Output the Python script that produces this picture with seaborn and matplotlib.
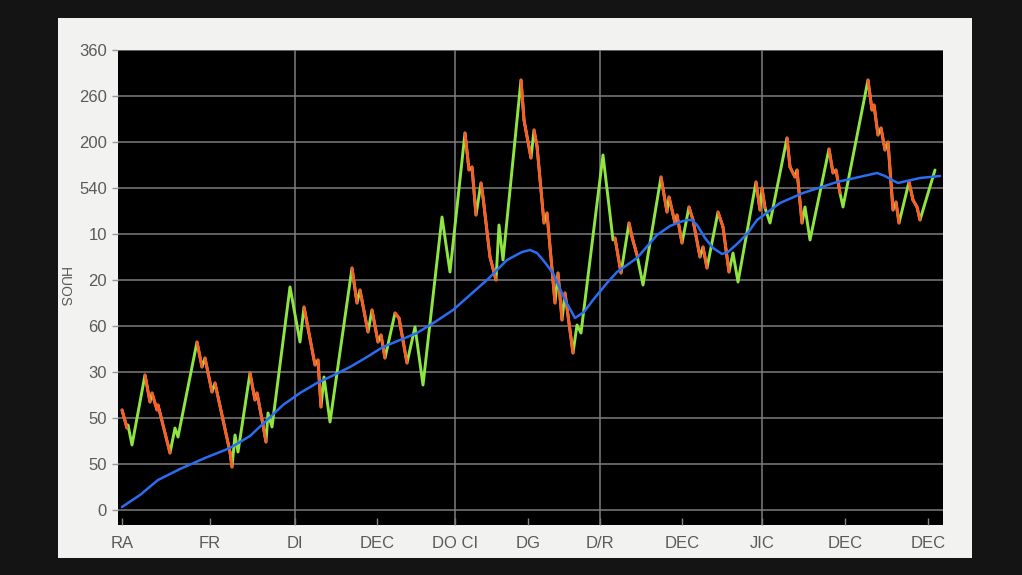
import numpy as np
import pandas as pd
import matplotlib
matplotlib.use("Agg")
import matplotlib.pyplot as plt
import seaborn as sns

# ---- data ----
price_x = [0, 5, 6, 10, 23, 28, 30, 35, 36, 48, 53, 56, 75, 80, 83, 90, 93, 108, 110, 113, 116,
           128, 133, 135, 141, 144, 146, 150, 168, 178, 182, 193, 196, 199, 202, 208,
           230, 235, 238, 246, 250, 256, 259, 263, 273, 277, 285, 293, 301,
           320, 328, 343, 347, 350, 354, 359, 361, 368, 374, 377, 381,
           399, 402, 409, 412, 415, 422, 425, 433, 436, 440, 443, 451, 455, 459,
           481, 491, 493, 499, 507, 510, 515, 521, 539, 545, 547, 553, 555, 560,
           567, 571, 578, 581, 585, 596, 601, 607, 611, 616, 634, 638, 640, 643, 648,
           665, 668, 673, 675, 680, 683, 688, 707, 711, 714, 718, 721,
           746, 750, 752, 756, 759, 763, 766, 771, 774, 777, 787, 791, 795, 798, 813]
price_y = [100, 82, 85, 65, 135, 108, 117, 100, 105, 57, 82, 73, 168, 143, 152, 118, 127, 58, 43, 75, 58,
           137, 110, 117, 85, 68, 97, 83, 223, 168, 203, 145, 150, 103, 133, 88,
           242, 207, 220, 178, 200, 168, 175, 152, 197, 192, 147, 183, 125,
           293, 238, 377, 340, 343, 295, 327, 313, 253, 230, 285, 250,
           430, 390, 352, 380, 364, 287, 297, 207, 237, 190, 217, 157, 185, 177,
           355, 270, 272, 237, 287, 273, 255, 225, 333, 298, 313, 287, 295, 267,
           303, 290, 253, 263, 242, 298, 283, 238, 257, 228, 328, 300, 322, 302, 287,
           372, 343, 333, 340, 287, 303, 270, 361, 337, 340, 317, 303,
           430, 400, 405, 375, 382, 360, 368, 300, 308, 287, 328, 310, 303, 290, 340]

avg_x = [0, 18, 36, 58, 83, 108, 128, 145, 161, 178, 195, 212, 228, 245, 261, 278, 295, 313,
         331, 348, 365, 385, 400, 408, 415, 421, 431, 443, 453, 462, 471, 485, 495, 505, 515,
         535, 548, 558, 565, 570, 575, 583, 591, 600, 606, 615, 625, 635, 658, 681, 715, 755,
         763, 770, 776, 798, 818]
avg_y = [3, 15, 30, 41, 52, 62, 74, 90, 105, 117, 127, 135, 143, 153, 163, 170, 177, 188,
         200, 215, 230, 250, 258, 260, 257, 250, 237, 210, 192, 198, 210, 227, 238, 245, 252,
         275, 284, 288, 290, 290, 285, 272, 262, 256, 258, 266, 276, 290, 307, 317, 328, 337,
         334, 330, 327, 332, 334]

x_ticks = [0, 88, 173, 255, 333, 406, 478, 560, 640, 723, 806]
x_labels = ["RA", "FR", "DI", "DEC", "DO CI", "DG", "D/R", "DEC", "JIC", "DEC", "DEC"]
x_grid_ticks = ["DI", "DO CI", "D/R", "JIC"]
y_ticks = [0, 46, 92, 138, 184, 230, 276, 322, 368, 414, 460]
y_labels = ["0", "50", "50", "30", "60", "20", "10", "540", "200", "260", "360"]
y_title = "HUOS"

# ---- frames ----
price = pd.DataFrame({"x": price_x, "y": price_y})
avg = pd.DataFrame({"x": avg_x, "y": avg_y})
falls = []
n = len(price_x)
for i in range(n - 1):
    drop = price_y[i] - price_y[i + 1]
    next_rise = price_y[i + 2] - price_y[i + 1] if i + 2 < n else 0
    prev_rise = price_y[i] - price_y[i - 1] if i > 0 else 0
    # falling legs are drawn orange, except the last leg into a trough before a rally
    # and a sharp first leg off a rally peak
    if drop <= 0 or next_rise > 60 or (prev_rise > 60 and drop >= 50):
        continue
    falls.append({"x": price_x[i], "y": price_y[i], "seg": i})
    falls.append({"x": price_x[i + 1], "y": price_y[i + 1], "seg": i})
falls = pd.DataFrame(falls)

# ---- style ----
sns.set_style("dark", {"axes.facecolor": "black"})
plt.rcParams["font.family"] = ["Liberation Sans Narrow", "Liberation Sans", "DejaVu Sans"]

fig = plt.figure(figsize=(10.22, 5.75), dpi=100, facecolor="#141414")
# the white screen panel
bg = fig.add_axes([58 / 1022, 1 - 558 / 575, (972 - 58) / 1022, (558 - 18) / 575], zorder=0)
bg.set_facecolor("#f2f2f0")
bg.set_xticks([])
bg.set_yticks([])
for s in bg.spines.values():
    s.set_visible(False)

ax = fig.add_axes([118 / 1022, 50 / 575, (943 - 118) / 1022, (525 - 50) / 575], zorder=2)
ax.set_facecolor("black")

sns.lineplot(data=price, x="x", y="y", ax=ax, color="#8fe640", lw=2.1, sort=False,
             estimator=None, zorder=3)
sns.lineplot(data=falls, x="x", y="y", units="seg", ax=ax, color="#ff5a2a", lw=2.1,
             estimator=None, sort=False, zorder=4)
sns.lineplot(data=avg, x="x", y="y", ax=ax, color="#2a6df2", lw=1.8, estimator=None,
             zorder=5)

ax.set_xlim(-4, 821)
ax.set_ylim(-15, 460)
ax.set_yticks(y_ticks)
ax.set_yticklabels(y_labels)
ax.set_xticks(x_ticks)
ax.set_xticklabels(x_labels)
ax.yaxis.grid(True, color="#7c7c7c", lw=1.1)
ax.xaxis.grid(False)
for t, lab in zip(x_ticks, x_labels):
    if lab in x_grid_ticks:
        ax.axvline(t, color="#7c7c7c", lw=1.1, zorder=1)

ax.tick_params(axis="y", which="major", direction="out", length=4, width=1, color="#999999",
               labelsize=12, labelcolor="#5a5a5a", pad=4, left=True)
ax.tick_params(axis="x", which="major", direction="in", length=5, width=1, color="#888888",
               labelsize=12, labelcolor="#5a5a5a", pad=8, bottom=True)
ax.set_xlabel("")
ax.set_ylabel(y_title, rotation=270, color="#5a5a5a", fontsize=10, labelpad=16)
for s in ax.spines.values():
    s.set_visible(False)

fig.savefig("out.png", dpi=100, facecolor=fig.get_facecolor())
